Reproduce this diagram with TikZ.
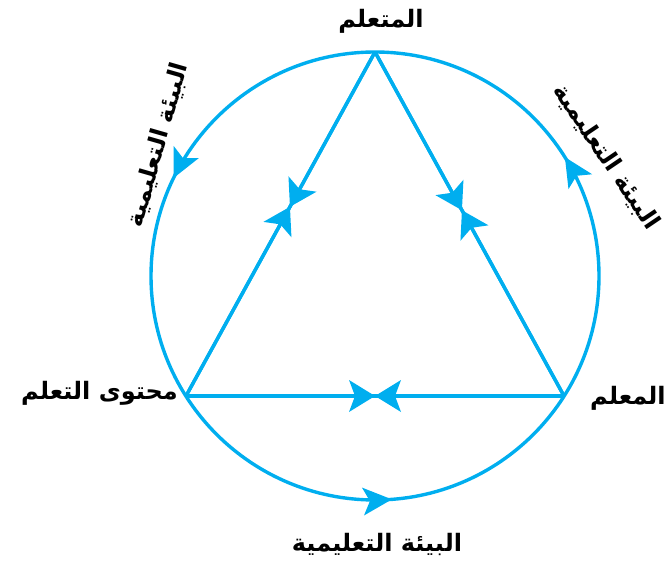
\documentclass[tikz,border=0pt]{standalone}
\usepackage{fontspec}
\newfontfamily\arabicfont[Script=Arabic]{DejaVu Sans}
\TeXXeTstate=1
\usetikzlibrary{arrows.meta,decorations.markings}
\definecolor{cyanline}{HTML}{00AEEF}
\tikzset{
  ln/.style={draw=cyanline, line width=3.4pt},
  lbl/.style={font=\arabicfont\bfseries\fontsize{24}{28}\selectfont, text=black, inner sep=0pt},
  tipA/.tip={Stealth[length=29pt,width=28pt,inset=7pt,line width=0pt]},
  tipB/.tip={Stealth[length=26pt,width=32pt,inset=6pt,line width=0pt]},
}
\begin{document}
\begin{tikzpicture}[x=1pt,y=1pt]
\useasboundingbox (0,0) rectangle (666,560);
\coordinate (C) at (375,284);
\coordinate (A) at (375,508);
\coordinate (L) at (186,164);
\coordinate (R) at (564,164);
% circle with arrows (counterclockwise)
\draw[ln, postaction={decorate}, decoration={markings,
   mark=at position 0.089 with {\arrow[cyanline]{tipA}},
   mark=at position 0.428 with {\arrow[cyanline]{tipA}},
   mark=at position 0.762 with {\arrow[cyanline]{tipA}}}]
   (C) circle (224);
% triangle edges
\draw[ln, postaction={decorate}, decoration={markings, mark=at position 0.45 with {\arrow[cyanline]{tipB}}}] (A) -- (L);
\draw[ln, postaction={decorate}, decoration={markings, mark=at position 0.55 with {\arrow[cyanline]{tipB}}}] (L) -- (A);
\draw[ln, postaction={decorate}, decoration={markings, mark=at position 0.46 with {\arrow[cyanline]{tipB}}}] (A) -- (R);
\draw[ln, postaction={decorate}, decoration={markings, mark=at position 0.54 with {\arrow[cyanline]{tipB}}}] (R) -- (A);
\draw[ln, postaction={decorate}, decoration={markings, mark=at position 0.5 with {\arrow[cyanline]{tipB}}}] (L) -- (R);
\draw[ln, postaction={decorate}, decoration={markings, mark=at position 0.5 with {\arrow[cyanline]{tipB}}}] (R) -- (L);
% labels
\node[lbl] (ntop) at (381,539) {\beginR المتعلم\endR};
\node[lbl, anchor=east] (nleft) at (178,167) {\beginR محتوى التعلم\endR};
\node[lbl, anchor=west] (nright) at (590,162) {\beginR المعلم\endR};
\node[lbl] (nbottom) at (377,16) {\beginR البيئة التعليمية\endR};
\node[lbl, rotate=74] (nleftarc) at (158,415) {\beginR البيئة التعليمية\endR};
\node[lbl, rotate=-56] (nrightarc) at (606,403) {\beginR البيئة التعليمية\endR};
\end{tikzpicture}
\end{document}
